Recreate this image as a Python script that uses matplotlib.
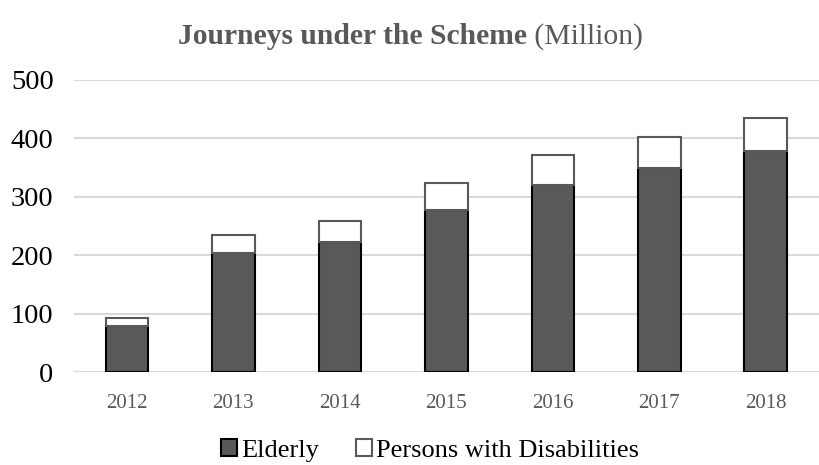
import matplotlib.pyplot as plt
import numpy as np

years = ["2012", "2013", "2014", "2015", "2016", "2017", "2018"]
elderly = [79, 203, 222, 278, 321, 349, 378]
disabled = [13, 31, 36, 45, 50, 54, 57]

plt.rcParams['font.family'] = ['Liberation Serif', 'DejaVu Serif']

fig = plt.figure(figsize=(8.19, 4.65), dpi=100)
ax = fig.add_axes([0.09, 0.2, 0.91, 0.628])

x = np.arange(len(years))
ax.bar(x, elderly, width=0.4, color='#595959', edgecolor='black', linewidth=1.5,
       label='Elderly', zorder=3)
ax.bar(x, disabled, width=0.4, bottom=elderly, color='white', edgecolor='#595959',
       linewidth=1.5, label='Persons with Disabilities', zorder=3)

ax.set_xlim(-0.5, len(years) - 0.5)
ax.set_ylim(0, 500)
ax.set_yticks(range(0, 501, 100))
ax.set_xticks(x)
ax.set_xticklabels(years, color='#595959', fontsize=15)
ax.tick_params(axis='y', labelsize=20.5, length=0, pad=14.5)
ax.tick_params(axis='x', length=0, pad=15.5)
ax.yaxis.grid(True, color='#d9d9d9', linewidth=1.5, zorder=0)
for s in ax.spines.values():
    s.set_visible(False)
ax.axhline(0, color='#d9d9d9', linewidth=2, zorder=2)

t = fig.text(0.5, 0.905, "Journeys under the Scheme", fontsize=21.3, fontweight='bold',
             color='#595959', ha='left', va='baseline')
t2 = ax.annotate(" (Million)", xy=(1, 0), xycoords=t, fontsize=21.3, color='#595959',
                 ha='left', va='bottom')
fig.canvas.draw()
w1 = t.get_window_extent().width
w2 = t2.get_window_extent().width
t.set_position((410.0 / 819 - 0.5 * (w1 + w2) / fig.bbox.width, 0.905))

leg = fig.legend(loc='lower center', bbox_to_anchor=(0.525, -0.044), ncol=2, frameon=False,
                 fontsize=19, handlelength=0.6, handleheight=0.6, handletextpad=0.15,
                 columnspacing=1.4)

fig.savefig('out.png', dpi=100)
